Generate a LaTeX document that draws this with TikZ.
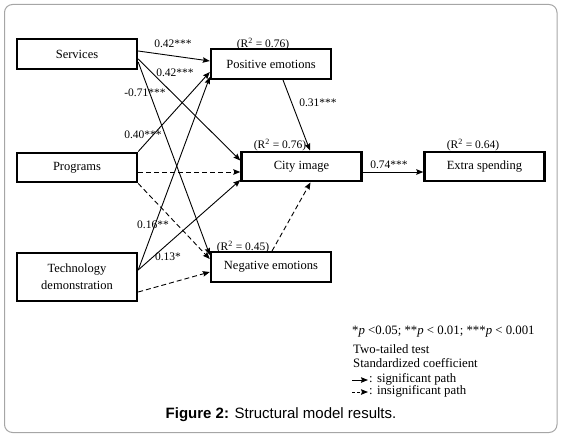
\documentclass[tikz,border=0pt]{standalone}
\usepackage{fontspec}
\setmainfont{Liberation Serif}
\newfontfamily\capfont{Liberation Sans}
\usetikzlibrary{arrows.meta}

\begin{document}
\begin{tikzpicture}[x=1pt, y=-1pt, >={Stealth[length=7pt,width=5.5pt,inset=1pt]},
  var/.style={draw, line width=2.4pt, minimum width=120pt, minimum height=29.5pt,
    inner sep=0pt, align=center, font=\fontsize{12.5}{17}\selectfont},
  coef/.style={inner sep=0pt, font=\fontsize{11.5}{13}\selectfont},
  note/.style={inner sep=0pt, anchor=west, font=\fontsize{12.8}{14}\selectfont},
  sig/.style={->, line width=0.9pt},
  insig/.style={->, line width=0.9pt, dash pattern=on 5pt off 3pt}]
\useasboundingbox (0,0) rectangle (563,436);

% frame
\draw[black!35, line width=1pt, rounded corners=8pt] (4.5,4.5) rectangle (557,432.5);

% variables
\node[var] (serv) at (77,54) {Services};
\node[var] (prog) at (77,167.5) {Programs};
\node[var, minimum height=48pt] (tech) at (77,277) {Technology\\demonstration};
\node[var] (pos) at (271,64) {Positive emotions};
\node[var] (neg) at (271,267) {Negative emotions};
\node[var] (city) at (301.5,166.5) {City image};
\node[var] (extra) at (484.5,166.5) {Extra spending};

% explained variance
\node[coef] (r2pos) at (263,44) {(R\textsuperscript{2} = 0.76)};
\node[coef] (r2city) at (280,145) {(R\textsuperscript{2} = 0.76)};
\node[coef] (r2extra) at (473,145) {(R\textsuperscript{2} = 0.64)};
\node[coef] (r2neg) at (243,247) {(R\textsuperscript{2} = 0.45)};

% paths from services
\draw[sig] ([yshift=3pt]serv.east) -- ([yshift=3pt]pos.west);
\draw[sig] ([yshift=-5pt]serv.east) -- ([yshift=6pt]city.west);
\draw[sig] ([yshift=-8pt]serv.east) -- ([yshift=12pt]neg.west);

% paths from programs
\draw[sig] (prog.north east) -- ([yshift=-8pt]pos.west);
\draw[insig] ([yshift=-4.5pt]prog.east) -- ([yshift=-5.5pt]city.west);
\draw[insig] (prog.south east) -- ([yshift=8pt]neg.west);

% paths from technology demonstration
\draw[sig] ([yshift=7pt]tech.east) -- ([yshift=-13pt]pos.west);
\draw[sig] ([yshift=7pt]tech.east) -- ([yshift=-13.5pt]city.west);
\draw[insig] ([yshift=-15pt]tech.east) -- ([yshift=-5pt]neg.west);

% mediators and outcome
\draw[sig] ([xshift=12pt]pos.south) -- ([xshift=8.5pt]city.north);
\draw[insig] ([xshift=1pt]neg.north) -- ([xshift=9pt]city.south);
\draw[sig] ([yshift=-5.5pt]city.east) -- ([yshift=-5.5pt]extra.west);

% coefficients
\node[coef] (c1) at (173,44) {0.42***};
\node[coef] (c2) at (175,73) {0.42***};
\node[coef] (c3) at (145,93) {-0.71***};
\node[coef] (c4) at (143,135) {0.40***};
\node[coef] (c5) at (153,225) {0.16**};
\node[coef] (c6) at (168,257) {0.13*};
\node[coef] (c7) at (318,103) {0.31***};
\node[coef] (c8) at (389,165) {0.74***};

% ---- legend, bottom right ----
\node[note] (note1) at (352,332) {*\textit{p} <0.05; **\textit{p} < 0.01; ***\textit{p} < 0.001};
\node[note] (note2) at (353,349) {Two-tailed test};
\node[note] (note3) at (353,363) {Standardized coefficient};
\coordinate (ks0) at (352,380);
\coordinate (ks1) at (368,380);
\coordinate (ki0) at (352,392);
\coordinate (ki1) at (368,392);
\draw[sig] (ks0) -- (ks1);
\node[note] (note4) at (369,379) {: significant path};
\draw[insig, dash pattern=on 3pt off 2pt] (ki0) -- (ki1);
\node[note] (note5) at (369,391) {: insignificant path};

% caption
\node[inner sep=0pt, font=\capfont\fontsize{15}{17}\selectfont] (cap) at (281,415)
  {\textbf{Figure 2:} Structural model results.};
\end{tikzpicture}
\end{document}
